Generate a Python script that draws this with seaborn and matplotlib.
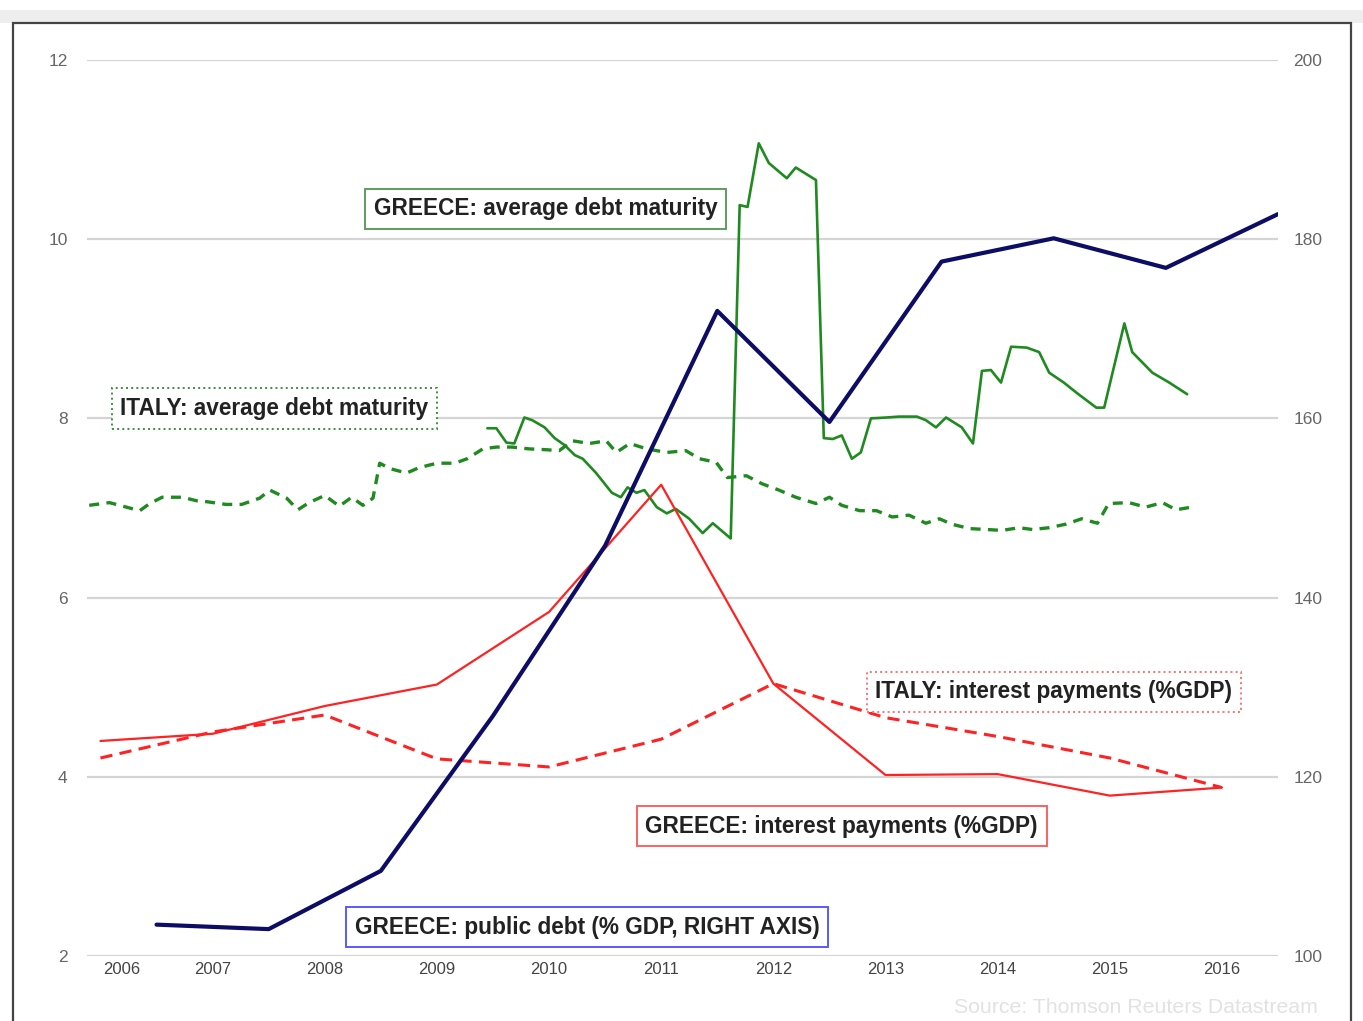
import matplotlib
matplotlib.use('Agg')
import matplotlib.pyplot as plt
import matplotlib.patches as patches
import seaborn as sns

# Greece public debt, % of GDP (right axis), year-end values
debt_x = [2007, 2008, 2009, 2010, 2011, 2012, 2013, 2014, 2015, 2016, 2017]
debt_y = [103.5, 103.0, 109.5, 126.8, 145.8, 172.0, 159.6, 177.5, 180.1, 176.8, 182.8]

# interest payments, % of GDP (mid-year values)
interest_x = [2006.5, 2007.5, 2008.5, 2009.5, 2010.5, 2011.5, 2012.5, 2013.5, 2014.5, 2015.5, 2016.5]
greece_interest = [4.40, 4.48, 4.79, 5.03, 5.84, 7.26, 5.04, 4.02, 4.03, 3.79, 3.88]
italy_interest = [4.21, 4.50, 4.69, 4.20, 4.11, 4.42, 5.04, 4.66, 4.45, 4.21, 3.88]

# Italy average debt maturity (years)
italy_mat_x = [2006.40, 2006.58, 2006.70, 2006.85, 2006.94, 2007.05, 2007.23, 2007.36, 2007.45,
               2007.62, 2007.76, 2007.92, 2008.01, 2008.16, 2008.26, 2008.36, 2008.50, 2008.63,
               2008.74, 2008.84, 2008.93, 2008.99, 2009.08, 2009.23, 2009.34, 2009.50, 2009.66,
               2009.77, 2009.91, 2010.03, 2010.17, 2010.32, 2010.48, 2010.59, 2010.71, 2010.86,
               2011.01, 2011.10, 2011.22, 2011.37, 2011.55, 2011.72, 2011.84, 2011.99, 2012.09,
               2012.26, 2012.40, 2012.55, 2012.70, 2012.88, 2013.00, 2013.11, 2013.27, 2013.42,
               2013.56, 2013.71, 2013.86, 2013.98, 2014.09, 2014.25, 2014.40, 2014.54, 2014.69,
               2014.81, 2014.96, 2015.11, 2015.25, 2015.39, 2015.49, 2015.67, 2015.82, 2015.97,
               2016.09, 2016.23]
italy_mat_y = [7.03, 7.06, 7.02, 6.97, 7.05, 7.12, 7.12, 7.08, 7.07,
               7.04, 7.04, 7.11, 7.20, 7.11, 6.98, 7.06, 7.14, 7.02,
               7.12, 7.03, 7.11, 7.50, 7.44, 7.39, 7.45, 7.50, 7.50,
               7.55, 7.66, 7.68, 7.68, 7.66, 7.65, 7.64, 7.75, 7.72,
               7.75, 7.62, 7.72, 7.66, 7.62, 7.64, 7.55, 7.51, 7.34,
               7.36, 7.27, 7.20, 7.12, 7.05, 7.12, 7.03, 6.97, 6.97,
               6.90, 6.92, 6.83, 6.88, 6.82, 6.77, 6.76, 6.75, 6.78,
               6.76, 6.78, 6.82, 6.88, 6.83, 7.05, 7.06, 7.01, 7.06,
               6.98, 7.01]

# Greece average debt maturity (years)
greece_mat_x = [2009.95, 2010.03, 2010.12, 2010.19, 2010.28, 2010.35, 2010.46, 2010.55, 2010.64,
                2010.73, 2010.80, 2010.92, 2011.06, 2011.14, 2011.20, 2011.28, 2011.35, 2011.46,
                2011.55, 2011.63, 2011.75, 2011.87, 2011.96, 2012.12, 2012.20, 2012.27, 2012.37,
                2012.46, 2012.62, 2012.70, 2012.88, 2012.95, 2013.03, 2013.11, 2013.20, 2013.28,
                2013.37, 2013.51, 2013.62, 2013.78, 2013.86, 2013.95, 2014.04, 2014.18, 2014.28,
                2014.36, 2014.44, 2014.53, 2014.62, 2014.76, 2014.87, 2014.96, 2015.09, 2015.21,
                2015.38, 2015.45, 2015.63, 2015.70, 2015.88, 2016.03, 2016.19]
greece_mat_y = [7.89, 7.89, 7.73, 7.72, 8.01, 7.98, 7.90, 7.78, 7.70,
                7.59, 7.55, 7.39, 7.17, 7.12, 7.23, 7.17, 7.20, 7.01,
                6.94, 6.99, 6.88, 6.72, 6.83, 6.66, 10.38, 10.36, 11.07,
                10.85, 10.68, 10.80, 10.66, 7.78, 7.77, 7.81, 7.55, 7.62,
                8.00, 8.01, 8.02, 8.02, 7.98, 7.90, 8.01, 7.90, 7.72,
                8.53, 8.54, 8.40, 8.80, 8.79, 8.74, 8.51, 8.40, 8.28,
                8.12, 8.12, 9.06, 8.74, 8.51, 8.40, 8.27]

years = list(range(2006, 2017))
left_ticks = [2, 4, 6, 8, 10, 12]
right_ticks = [100, 120, 140, 160, 180, 200]

sns.set_style('white')
plt.rcParams['font.family'] = ['Liberation Sans', 'DejaVu Sans']

fig = plt.figure(figsize=(13.63, 10.21), dpi=100)
ax = fig.add_axes([87 / 1363, 1 - 956 / 1021, (1278 - 87) / 1363, (956 - 60) / 1021])
ax2 = ax.twinx()

xmin, xmax = 2006.38, 2017.0

green = '#1f8a1f'
red = '#ff2222'
navy = '#0d0d66'

for y in left_ticks:
    ax.axhline(y, color='#d4d4d4', lw=1.6, zorder=0)

sns.lineplot(x=italy_mat_x, y=italy_mat_y, ax=ax, color=green, linewidth=2.4,
             linestyle=(0, (3, 2.2)), estimator=None, sort=False)
sns.lineplot(x=greece_mat_x, y=greece_mat_y, ax=ax, color=green, linewidth=1.9,
             estimator=None, sort=False)
sns.lineplot(x=interest_x, y=italy_interest, ax=ax, color=red, linewidth=2.2,
             linestyle=(0, (4, 2.4)), estimator=None, sort=False)
sns.lineplot(x=interest_x, y=greece_interest, ax=ax, color=red, linewidth=1.6,
             estimator=None, sort=False)
sns.lineplot(x=debt_x, y=debt_y, ax=ax2, color=navy, linewidth=3.0,
             estimator=None, sort=False)

ax.set_xlim(xmin, xmax)
ax.set_ylim(2, 12)
ax2.set_ylim(100, 200)

tick_pos = [(xmin + 2007) / 2] + [y + 0.5 for y in years[1:]]
ax.set_xticks(tick_pos)
ax.set_xticklabels([str(y) for y in years], fontsize=12, color='#444444')
ax.set_yticks(left_ticks)
ax.set_yticklabels([str(v) for v in left_ticks], fontsize=12.5, color='#666666')
ax2.set_yticks(right_ticks)
ax2.set_yticklabels([str(v) for v in right_ticks], fontsize=12.5, color='#666666')
ax.tick_params(axis='y', length=0, pad=14)
ax.tick_params(axis='x', length=0, pad=4)
ax2.tick_params(axis='y', length=0, pad=11)
ax.set_xlabel('')
ax.set_ylabel('')
ax2.set_ylabel('')
for a in (ax, ax2):
    for s in a.spines.values():
        s.set_visible(False)

def label(x, y, text, edge, ls='-'):
    ax.text(x, y, text, ha='center', va='center', fontsize=16.3, color='#222222',
            fontweight='bold', zorder=10,
            bbox=dict(boxstyle='square,pad=0.38', facecolor='white', edgecolor=edge,
                      linewidth=1.4, linestyle=ls))

label(2010.47, 10.34, 'GREECE: average debt maturity', '#5c9e5c')
label(2008.05, 8.11, 'ITALY: average debt maturity', '#3e8e3e', ':')
label(2015.00, 4.95, 'ITALY: interest payments (%GDP)', '#ff7070', ':')
label(2013.11, 3.45, 'GREECE: interest payments (%GDP)', '#ff6060')
label(2010.84, 2.32, 'GREECE: public debt (% GDP, RIGHT AXIS)', '#5a5aff')

fig.text(1318 / 1363, 1 - 1007 / 1021, 'Source: Thomson Reuters Datastream', ha='right',
         va='center', fontsize=15.3, color='#e2e2e2')

# grey strip and frame around the chart
fig.patches.append(patches.Rectangle((0, 1 - 23 / 1021), 1, 13 / 1021, transform=fig.transFigure,
                                     facecolor='#eeeeee', edgecolor='none', zorder=0))
fig.patches.append(patches.Rectangle((13 / 1363, -0.05), (1351 - 13) / 1363, 1.05 - 23 / 1021,
                                     transform=fig.transFigure, facecolor='none',
                                     edgecolor='#444444', linewidth=1.6, zorder=5))

fig.savefig('out.png', dpi=100)
